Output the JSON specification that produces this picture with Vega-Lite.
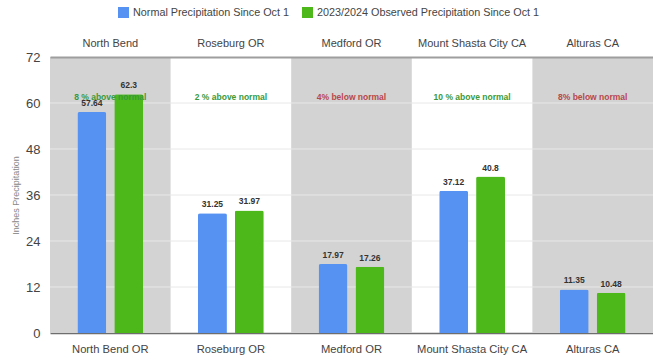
{
  "$schema": "https://vega.github.io/schema/vega-lite/v6.json",
  "width": 603,
  "height": 276,
  "autosize": {"type": "none"},
  "padding": {"left": 50, "top": 57, "right": 0, "bottom": 29},
  "background": "white",
  "config": {
    "font": "Liberation Sans",
    "view": {"stroke": null},
    "axis": {"labelColor": "#444444", "labelFont": "Liberation Sans"},
    "axisY": {"grid": false}
  },
  "datasets": {
    "precip": [
      {"station": "North Bend OR", "series": "Normal Precipitation Since Oct 1", "inches": 57.64},
      {"station": "North Bend OR", "series": "2023/2024 Observed Precipitation Since Oct 1", "inches": 62.3},
      {"station": "Roseburg OR", "series": "Normal Precipitation Since Oct 1", "inches": 31.25},
      {"station": "Roseburg OR", "series": "2023/2024 Observed Precipitation Since Oct 1", "inches": 31.97},
      {"station": "Medford OR", "series": "Normal Precipitation Since Oct 1", "inches": 17.97},
      {"station": "Medford OR", "series": "2023/2024 Observed Precipitation Since Oct 1", "inches": 17.26},
      {"station": "Mount Shasta City CA", "series": "Normal Precipitation Since Oct 1", "inches": 37.12},
      {"station": "Mount Shasta City CA", "series": "2023/2024 Observed Precipitation Since Oct 1", "inches": 40.8},
      {"station": "Alturas CA", "series": "Normal Precipitation Since Oct 1", "inches": 11.35},
      {"station": "Alturas CA", "series": "2023/2024 Observed Precipitation Since Oct 1", "inches": 10.48}
    ],
    "notes": [
      {"station": "North Bend OR", "note": "8 % above normal", "trend": "above"},
      {"station": "Roseburg OR", "note": "2 % above normal", "trend": "above"},
      {"station": "Medford OR", "note": "4% below normal", "trend": "below"},
      {"station": "Mount Shasta City CA", "note": "10 % above normal", "trend": "above"},
      {"station": "Alturas CA", "note": "8% below normal", "trend": "below"}
    ],
    "gridlines": [
      {"level": 12}, {"level": 24}, {"level": 36}, {"level": 48}, {"level": 60}
    ]
  },
  "resolve": {"axis": {"x": "independent"}},
  "layer": [
    {
      "data": {"name": "notes"},
      "transform": [
        {"filter": {"field": "station", "oneOf": ["North Bend OR", "Medford OR", "Alturas CA"]}}
      ],
      "mark": {"type": "rect", "color": "#d3d3d3"},
      "encoding": {
        "x": {
          "field": "station",
          "type": "nominal",
          "scale": {
            "domain": ["North Bend OR", "Roseburg OR", "Medford OR", "Mount Shasta City CA", "Alturas CA"],
            "paddingInner": 0,
            "paddingOuter": 0
          },
          "axis": {
            "orient": "top",
            "title": null,
            "ticks": false,
            "domain": true,
            "domainColor": "#9e9e9e",
            "domainWidth": 2,
            "labelAngle": 0,
            "labelFontSize": 11,
            "labelPadding": 9,
            "labelExpr": "datum.label == 'North Bend OR' ? 'North Bend' : datum.label"
          }
        }
      }
    },
    {
      "data": {"name": "gridlines"},
      "mark": {"type": "rule", "color": "#e8e8e8", "strokeWidth": 1},
      "encoding": {
        "y": {
          "field": "level",
          "type": "quantitative",
          "scale": {"domain": [0, 72], "nice": false},
          "axis": {
            "title": "Inches Precipitation",
            "titleFontSize": 9,
            "titleFontWeight": "normal",
            "titleColor": "#888888",
            "titlePadding": 5,
            "values": [0, 12, 24, 36, 48, 60, 72],
            "grid": false,
            "ticks": false,
            "domain": false,
            "labelFontSize": 13,
            "labelPadding": 10
          }
        }
      }
    },
    {
      "data": {"name": "precip"},
      "mark": {"type": "bar", "cornerRadiusTopLeft": 2, "cornerRadiusTopRight": 2},
      "encoding": {
        "x": {
          "field": "station",
          "type": "nominal",
          "axis": {
            "orient": "bottom",
            "title": null,
            "ticks": false,
            "domainColor": "#6e6e6e",
            "domainWidth": 1.5,
            "labelAngle": 0,
            "labelFontSize": 11.2,
            "labelPadding": 10
          }
        },
        "xOffset": {
          "field": "series",
          "type": "nominal",
          "scale": {
            "domain": ["Normal Precipitation Since Oct 1", "2023/2024 Observed Precipitation Since Oct 1"],
            "paddingInner": 0.216,
            "paddingOuter": 0.743
          }
        },
        "y": {"field": "inches", "type": "quantitative"},
        "color": {
          "field": "series",
          "type": "nominal",
          "scale": {
            "domain": ["Normal Precipitation Since Oct 1", "2023/2024 Observed Precipitation Since Oct 1"],
            "range": ["#5592f2", "#4cb81a"]
          },
          "legend": {
            "title": null,
            "orient": "none",
            "direction": "horizontal",
            "legendX": 68,
            "legendY": -50,
            "symbolType": "square",
            "symbolSize": 121,
            "symbolStrokeWidth": 0,
            "symbolOpacity": 1,
            "labelFontSize": 10.8,
            "labelColor": "#444444",
            "labelLimit": 400,
            "columnPadding": 12,
            "labelOffset": 4
          }
        }
      }
    },
    {
      "data": {"name": "precip"},
      "mark": {"type": "text", "baseline": "bottom", "dy": -4, "fontSize": 8.5, "fontWeight": "bold", "color": "#333333"},
      "encoding": {
        "x": {"field": "station", "type": "nominal", "axis": null},
        "xOffset": {"field": "series", "type": "nominal"},
        "y": {"field": "inches", "type": "quantitative"},
        "text": {"field": "inches", "type": "quantitative"}
      }
    },
    {
      "data": {"name": "notes"},
      "mark": {"type": "text", "baseline": "middle", "fontSize": 8.5, "fontWeight": "bold"},
      "encoding": {
        "x": {"field": "station", "type": "nominal", "axis": null},
        "y": {"datum": 61.6},
        "text": {"field": "note", "type": "nominal"},
        "color": {
          "condition": {"test": "datum.trend == 'below'", "value": "#b8474c"},
          "value": "#3a9a3a"
        }
      }
    }
  ]
}
